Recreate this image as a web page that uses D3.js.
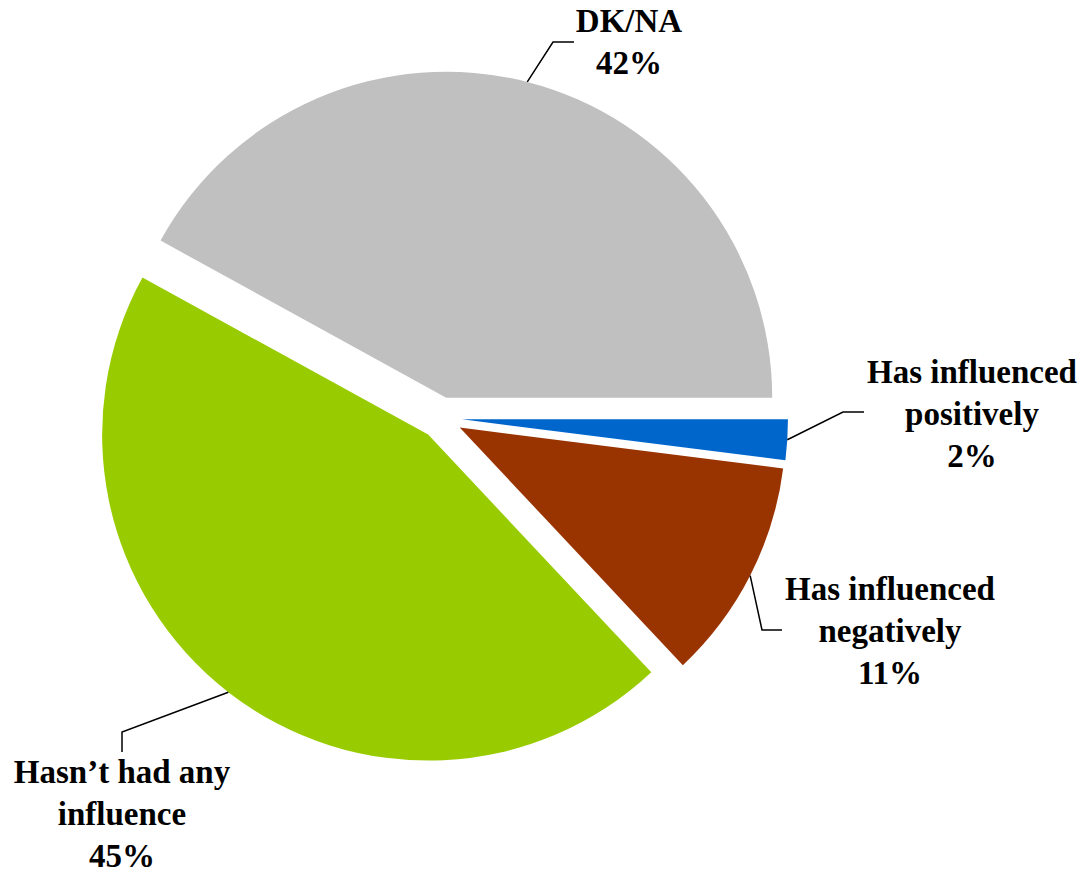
<!DOCTYPE html>
<html>
<head>
<meta charset="utf-8">
<script src="https://cdn.jsdelivr.net/npm/d3@7"></script>
<style>
  html, body { margin: 0; padding: 0; background: #ffffff; }
  svg { display: block; }
  text.lbl { font-family: "Liberation Serif", "Tinos", "Times New Roman", Times, "DejaVu Serif", serif; font-weight: bold; }
</style>
</head>
<body>
<svg id="chart" width="1083" height="877"></svg>
<script>
// ---- data ----
const categories = ["Has influenced positively", "Has influenced negatively", "Hasn\u2019t had any influence", "DK/NA"];
const values = [2, 11, 45, 42];
const labelLines = [
  ["Has influenced", "positively", "2%"],
  ["Has influenced", "negatively", "11%"],
  ["Hasn\u2019t had any", "influence", "45%"],
  ["DK/NA", "42%"]
];
const colors = ["#0066CC", "#993300", "#99CC00", "#C0C0C0"];

// ---- layout ----
const W = 1083, H = 877;
const cx = 441, cy = 418, R = 326, explode = 21;
const fontSize = 33, lineH = 42;
// label layout: text centre x, first baseline y, leader elbow & end
const labelLayout = [
  { x: 972, y: 383, elbow: [843, 412], end: [864, 412] },
  { x: 890, y: 600, elbow: [762, 630], end: [782, 630] },
  { x: 122, y: 783, elbow: [122, 732], end: [122, 752] },
  { x: 629, y: 32,  elbow: [553, 42],  end: [574, 42] }
];

const svg = d3.select("#chart");
const g = svg.append("g").attr("transform", `translate(${cx},${cy})`);

const pie = d3.pie().sort(null).value(d => d)
  .startAngle(Math.PI / 2).endAngle(Math.PI / 2 + 2 * Math.PI);
const arcs = pie(values);
const arc = d3.arc().innerRadius(0).outerRadius(R);

function offset(d) {
  const a = (d.startAngle + d.endAngle) / 2;
  return [Math.sin(a) * explode, -Math.cos(a) * explode];
}

g.selectAll("path.slice")
  .data(arcs)
  .join("path")
  .attr("class", "slice")
  .attr("d", arc)
  .attr("fill", (d, i) => colors[i])
  .attr("transform", d => { const o = offset(d); return `translate(${o[0]},${o[1]})`; });

// leader lines
const line = d3.line();
svg.selectAll("path.leader")
  .data(arcs)
  .join("path")
  .attr("class", "leader")
  .attr("fill", "none")
  .attr("stroke", "#000")
  .attr("stroke-width", 1.5)
  .attr("d", (d, i) => {
    const o = offset(d);
    const a = (d.startAngle + d.endAngle) / 2;
    const start = [cx + o[0] + Math.sin(a) * R, cy + o[1] - Math.cos(a) * R];
    return line([start, labelLayout[i].elbow, labelLayout[i].end]);
  });

// labels
const labels = svg.selectAll("text.lbl")
  .data(arcs)
  .join("text")
  .attr("class", "lbl")
  .attr("text-anchor", "middle")
  .attr("font-size", fontSize)
  .attr("fill", "#000");

labels.each(function(d, i) {
  const t = d3.select(this);
  labelLines[i].forEach((ln, k) => {
    t.append("tspan")
      .attr("x", labelLayout[i].x)
      .attr("y", labelLayout[i].y + k * lineH)
      .text(ln);
  });
});
</script>
</body>
</html>
